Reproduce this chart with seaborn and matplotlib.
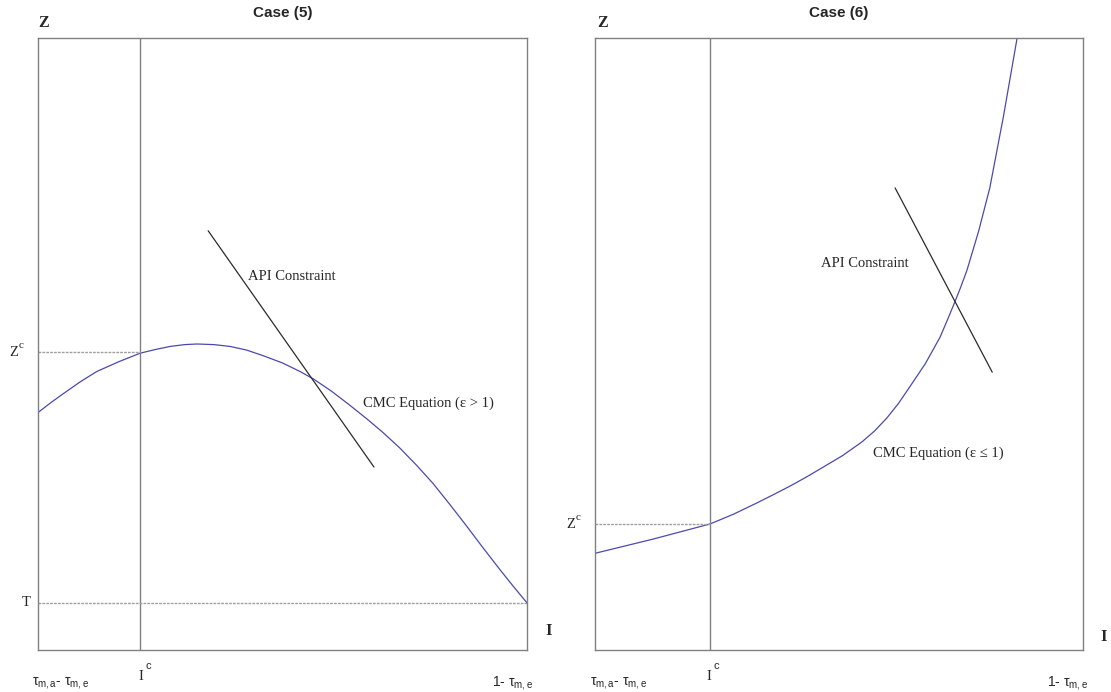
import matplotlib
matplotlib.use("Agg")
import matplotlib.pyplot as plt
import seaborn as sns
import pandas as pd

# ---------------- data (normalized axis units) ----------------
titles = ["Case (5)", "Case (6)"]

# Case (5): CMC equation (eps > 1)
cmc5_x = [0.0, 0.026, 0.052, 0.086, 0.120, 0.165, 0.209, 0.240, 0.270, 0.300,
          0.325, 0.360, 0.393, 0.427, 0.460, 0.500, 0.536, 0.563, 0.600, 0.636,
          0.672, 0.706, 0.740, 0.774, 0.808, 0.842, 0.877, 0.911, 0.945, 0.972, 1.0]
cmc5_y = [0.388, 0.404, 0.419, 0.438, 0.455, 0.471, 0.485, 0.491, 0.496, 0.499,
          0.500, 0.499, 0.496, 0.490, 0.481, 0.469, 0.455, 0.443, 0.423, 0.401,
          0.378, 0.355, 0.330, 0.302, 0.272, 0.238, 0.202, 0.166, 0.131, 0.104, 0.077]
api5_x = [0.348, 0.687]
api5_y = [0.685, 0.299]
ic5 = 0.209
zc5 = 0.487
t5 = 0.077

# Case (6): CMC equation (eps <= 1)
cmc6_x = [0.0, 0.118, 0.236, 0.284, 0.331, 0.366, 0.400, 0.434, 0.468, 0.508,
          0.547, 0.573, 0.598, 0.622, 0.645, 0.677, 0.707, 0.722, 0.736, 0.749,
          0.762, 0.786, 0.809, 0.837, 0.865]
cmc6_y = [0.158, 0.181, 0.206, 0.222, 0.240, 0.254, 0.268, 0.283, 0.299, 0.318,
          0.340, 0.358, 0.379, 0.403, 0.430, 0.468, 0.511, 0.539, 0.566, 0.592,
          0.620, 0.684, 0.755, 0.872, 1.0]
api6_x = [0.615, 0.814]
api6_y = [0.755, 0.454]
ic6 = 0.236
zc6 = 0.206

xtick_labels = [r"$\tau_{\mathregular{m,a}}$- $\tau_{\mathregular{m,e}}$",
                "I",
                r"1- $\tau_{\mathregular{m,e}}$"]

# ---------------- style ----------------
sns.set_style("white")
plt.rcParams["font.family"] = ["Liberation Serif", "DejaVu Serif"]
plt.rcParams["mathtext.fontset"] = "custom"
plt.rcParams["mathtext.rm"] = "Liberation Sans"
plt.rcParams["mathtext.it"] = "Liberation Sans"

W, H = 1111, 692
fig = plt.figure(figsize=(W / 100, H / 100), dpi=100)

def fx(px):
    return px / W

def fy(py):
    return 1 - py / H

axes_px = [(38, 527), (595, 1083)]
top_px, bot_px = 38, 650

CURVE = "#4a4aae"
API = "#2b2b2b"
GRID = "#808080"
DASH = "#a0a0a0"

axs = []
for (l, r) in axes_px:
    ax = fig.add_axes([fx(l), fy(bot_px), (r - l) / W, (bot_px - top_px) / H])
    ax.set_xlim(0, 1)
    ax.set_ylim(0, 1)
    ax.set_xticks([])
    ax.set_yticks([])
    for s in ax.spines.values():
        s.set_color(GRID)
        s.set_linewidth(1.0)
    axs.append(ax)

dash_style = (0, (2.0, 0.8))

# ---- Case (5) ----
ax = axs[0]
sns.lineplot(data=pd.DataFrame({"x": cmc5_x, "y": cmc5_y}), x="x", y="y", ax=ax,
             sort=False, estimator=None, color=CURVE, lw=0.9)
sns.lineplot(data=pd.DataFrame({"x": api5_x, "y": api5_y}), x="x", y="y", ax=ax,
             sort=False, estimator=None, color=API, lw=0.9)
ax.axvline(ic5, color=GRID, lw=1.0)
ax.plot([0, ic5], [zc5, zc5], color=DASH, lw=1.0, ls=dash_style)
ax.plot([0, 1], [t5, t5], color=DASH, lw=1.0, ls=dash_style)
ax.set_xlabel("")
ax.set_ylabel("")

# ---- Case (6) ----
ax = axs[1]
sns.lineplot(data=pd.DataFrame({"x": cmc6_x, "y": cmc6_y}), x="x", y="y", ax=ax,
             sort=False, estimator=None, color=CURVE, lw=0.9)
sns.lineplot(data=pd.DataFrame({"x": api6_x, "y": api6_y}), x="x", y="y", ax=ax,
             sort=False, estimator=None, color=API, lw=0.9)
ax.axvline(ic6, color=GRID, lw=1.0)
ax.plot([0, ic6], [zc6, zc6], color=DASH, lw=1.0, ls=dash_style)
ax.set_xlabel("")
ax.set_ylabel("")

# ---------------- text ----------------
sans = ["Liberation Sans", "DejaVu Sans"]
for ax, t in zip(axs, titles):
    ax.set_title(t, fontsize=11, fontweight="bold", family=sans, pad=15)

serif = ["Liberation Serif", "DejaVu Serif"]
# Z and I axis names
fig.text(fx(44), fy(23), "Z", fontsize=11.5, fontweight="bold", family=serif, ha="center", va="center")
fig.text(fx(603), fy(23), "Z", fontsize=11.5, fontweight="bold", family=serif, ha="center", va="center")
fig.text(fx(549), fy(631), "I", fontsize=12, fontweight="bold", family=serif, ha="center", va="center")
fig.text(fx(1104), fy(637), "I", fontsize=12, fontweight="bold", family=serif, ha="center", va="center")

# x tick-like labels
tick_px = [[(60, 683), (141, 676), (513, 683)],
           [(618, 683), (709, 676), (1068, 683)]]
for row in tick_px:
    for (px, py), lab in zip(row, xtick_labels):
        if lab == "I":
            fig.text(fx(px), fy(py), "I", fontsize=10.5, family=serif, ha="center", va="center")
            fig.text(fx(px + 7), fy(py - 10), "c", fontsize=8, family=sans, ha="center", va="center")
        else:
            fig.text(fx(px), fy(py), lab, fontsize=10, family=sans, ha="center", va="center")

# y labels
def zc_label(px, py):
    fig.text(fx(px), fy(py), "Z", fontsize=10.5, family=serif, ha="center", va="center")
    fig.text(fx(px + 7), fy(py - 6), "c", fontsize=8, family=serif, ha="center", va="center")

zc_label(14, 352)
fig.text(fx(26), fy(603), "T", fontsize=10.5, family=serif, ha="center", va="center")
zc_label(571, 524)

# annotations
fig.text(fx(248), fy(277), "API Constraint", fontsize=10.5, family=serif, ha="left", va="center")
fig.text(fx(363), fy(403), "CMC Equation (\u03b5 > 1)", fontsize=10.5, family=serif, ha="left", va="center")
fig.text(fx(821), fy(264), "API Constraint", fontsize=10.5, family=serif, ha="left", va="center")
fig.text(fx(873), fy(453), "CMC Equation (\u03b5 \u2264 1)", fontsize=10.5, family=serif, ha="left", va="center")

fig.savefig("out.png", dpi=100, facecolor="white")
